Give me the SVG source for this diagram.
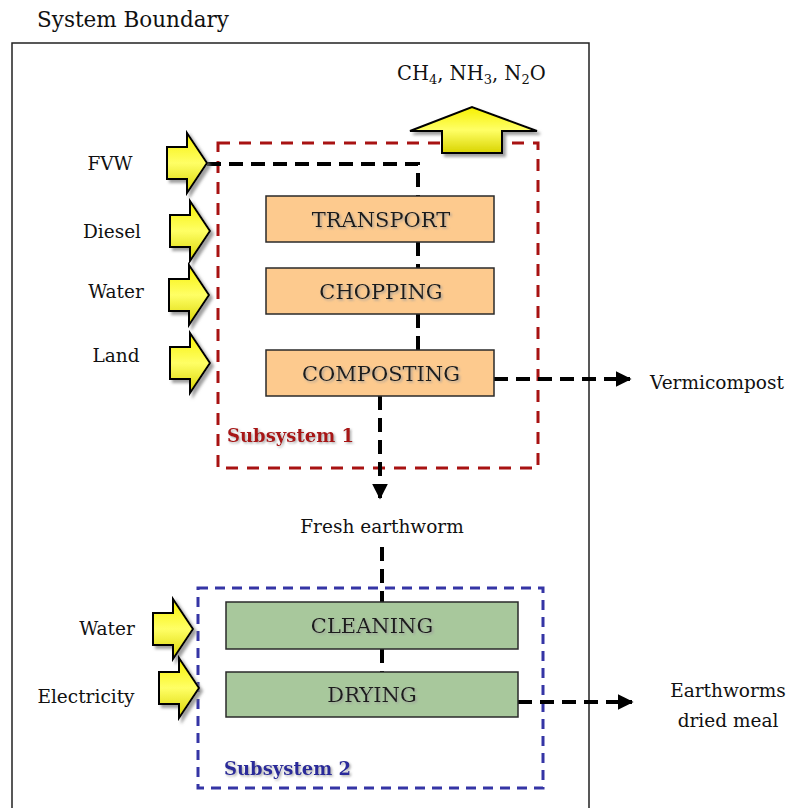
<svg xmlns="http://www.w3.org/2000/svg" width="790" height="808" viewBox="0 0 790 808">
  <defs>
    <style>
      .lbl { font-family: "DejaVu Serif", "Liberation Serif", serif; font-size: 18.5px; fill: #111; }
      .box1 { fill: #fdca8e; stroke: #2a2a2a; stroke-width: 1.5; }
      .box2 { fill: #a8c89c; stroke: #2a2a2a; stroke-width: 1.5; }
      .boxtxt { font-family: "DejaVu Serif", "Liberation Serif", serif; font-size: 21px; fill: #1a1a1a; text-anchor: middle; }
      .conn { fill: none; stroke: #000; stroke-width: 4; stroke-dasharray: 14 8; }
      .yarrow { fill: url(#ygrad); stroke: #000; stroke-width: 2; stroke-linejoin: miter; }
      .sub { font-family: "DejaVu Serif", "Liberation Serif", serif; font-size: 18px; font-weight: bold; }
    </style>
    <linearGradient id="ygrad" x1="0" y1="0" x2="0" y2="1">
      <stop offset="0" stop-color="#f6f000"/>
      <stop offset="0.5" stop-color="#ffff66"/>
      <stop offset="1" stop-color="#d9d400"/>
    </linearGradient>
    <filter id="shadow" x="-20%" y="-20%" width="150%" height="150%">
      <feDropShadow dx="3" dy="3" stdDeviation="1.5" flood-color="#777" flood-opacity="0.7"/>
    </filter>
    <filter id="tshadow" x="-5%" y="-20%" width="110%" height="150%">
      <feDropShadow dx="1.5" dy="1.5" stdDeviation="0.8" flood-color="#999" flood-opacity="0.8"/>
    </filter>
    <marker id="ah" viewBox="0 0 10 10" refX="9" refY="5" markerWidth="4" markerHeight="4" orient="auto" markerUnits="strokeWidth">
      <path d="M0,0 L10,5 L0,10 Z" fill="#000"/>
    </marker>
    <path id="rarrow" d="M-40,-16 L-20,-16 L-20,-30 L0,0 L-20,30 L-20,16 L-40,16 Z"/>
  </defs>

  <rect width="790" height="808" fill="#fff"/>

  <!-- System boundary -->
  <g id="system-boundary">
    <path d="M12,808 L12,43 L589,43 L589,808" fill="none" stroke="#222" stroke-width="1.5"/>
    <text x="37" y="27" style="font-family: 'DejaVu Serif', 'Liberation Serif', serif; font-size: 21.5px; fill:#111;">System Boundary</text>
  </g>

  <!-- Subsystems -->
  <g id="subsystem1">
    <rect x="218" y="143" width="320" height="325" fill="none" stroke="#a81212" stroke-width="3" stroke-dasharray="12 9"/>
    <text x="227" y="442" class="sub" fill="#a81212" filter="url(#tshadow)">Subsystem 1</text>
  </g>
  <g id="subsystem2">
    <rect x="198" y="588" width="345" height="200" fill="none" stroke="#3535a5" stroke-width="3" stroke-dasharray="10 7"/>
    <text x="224" y="775" class="sub" fill="#2c2c9a" filter="url(#tshadow)">Subsystem 2</text>
  </g>

  <!-- Connectors -->
  <g id="connectors">
    <path class="conn" d="M207,164 L418,164 L418,196"/>
    <path class="conn" d="M418,242 L418,268"/>
    <path class="conn" d="M418,314 L418,350"/>
    <path class="conn" d="M380,396 L380,498" marker-end="url(#ah)"/>
    <path class="conn" d="M494,379 L630,379" marker-end="url(#ah)"/>
    <path class="conn" d="M382,547 L382,602"/>
    <path class="conn" d="M382,649 L382,672" stroke-dasharray="none"/>
    <path class="conn" d="M518,702 L632,702" marker-end="url(#ah)"/>
  </g>

  <!-- Process boxes -->
  <g id="transport">
    <rect class="box1" x="266" y="196" width="228" height="46"/>
    <text class="boxtxt" x="381" y="227" filter="url(#tshadow)">TRANSPORT</text>
  </g>
  <g id="chopping">
    <rect class="box1" x="266" y="268" width="228" height="46"/>
    <text class="boxtxt" x="381" y="299" filter="url(#tshadow)">CHOPPING</text>
  </g>
  <g id="composting">
    <rect class="box1" x="266" y="350" width="228" height="46"/>
    <text class="boxtxt" x="381" y="381" filter="url(#tshadow)">COMPOSTING</text>
  </g>
  <g id="cleaning">
    <rect class="box2" x="226" y="602" width="292" height="47"/>
    <text class="boxtxt" x="372" y="633" filter="url(#tshadow)">CLEANING</text>
  </g>
  <g id="drying">
    <rect class="box2" x="226" y="672" width="292" height="45"/>
    <text class="boxtxt" x="372" y="702" filter="url(#tshadow)">DRYING</text>
  </g>

  <!-- Inputs -->
  <g id="in-fvw">
    <use href="#rarrow" class="yarrow" transform="translate(207,163)" filter="url(#shadow)"/>
    <text class="lbl" x="110" y="170" text-anchor="middle">FVW</text>
  </g>
  <g id="in-diesel">
    <use href="#rarrow" class="yarrow" transform="translate(210,231)" filter="url(#shadow)"/>
    <text class="lbl" x="112" y="238" text-anchor="middle">Diesel</text>
  </g>
  <g id="in-water1">
    <use href="#rarrow" class="yarrow" transform="translate(209,295)" filter="url(#shadow)"/>
    <text class="lbl" x="116" y="298" text-anchor="middle">Water</text>
  </g>
  <g id="in-land">
    <use href="#rarrow" class="yarrow" transform="translate(210,363)" filter="url(#shadow)"/>
    <text class="lbl" x="116" y="362" text-anchor="middle">Land</text>
  </g>
  <g id="in-water2">
    <use href="#rarrow" class="yarrow" transform="translate(193,629)" filter="url(#shadow)"/>
    <text class="lbl" x="107" y="635" text-anchor="middle">Water</text>
  </g>
  <g id="in-electricity">
    <use href="#rarrow" class="yarrow" transform="translate(199,688)" filter="url(#shadow)"/>
    <text class="lbl" x="86" y="703" text-anchor="middle">Electricity</text>
  </g>

  <!-- Emissions -->
  <g id="emissions">
    <polygon class="yarrow" points="442,153 442,131 410,131 472,107 537,131 502,131 502,153" filter="url(#shadow)"/>
    <text class="lbl" x="397" y="80" style="font-size:19.5px">CH<tspan font-size="13" dy="4">4</tspan><tspan dy="-4">, NH</tspan><tspan font-size="13" dy="4">3</tspan><tspan dy="-4">, N</tspan><tspan font-size="13" dy="4">2</tspan><tspan dy="-4">O</tspan></text>
  </g>

  <!-- Outputs -->
  <g id="out-vermicompost">
    <text class="lbl" x="650" y="389">Vermicompost</text>
  </g>
  <g id="out-fresh-earthworm">
    <text class="lbl" x="382" y="533" text-anchor="middle">Fresh earthworm</text>
  </g>
  <g id="out-dried-meal">
    <text class="lbl" x="728" y="697" text-anchor="middle">Earthworms</text>
    <text class="lbl" x="728" y="727" text-anchor="middle">dried meal</text>
  </g>
</svg>
